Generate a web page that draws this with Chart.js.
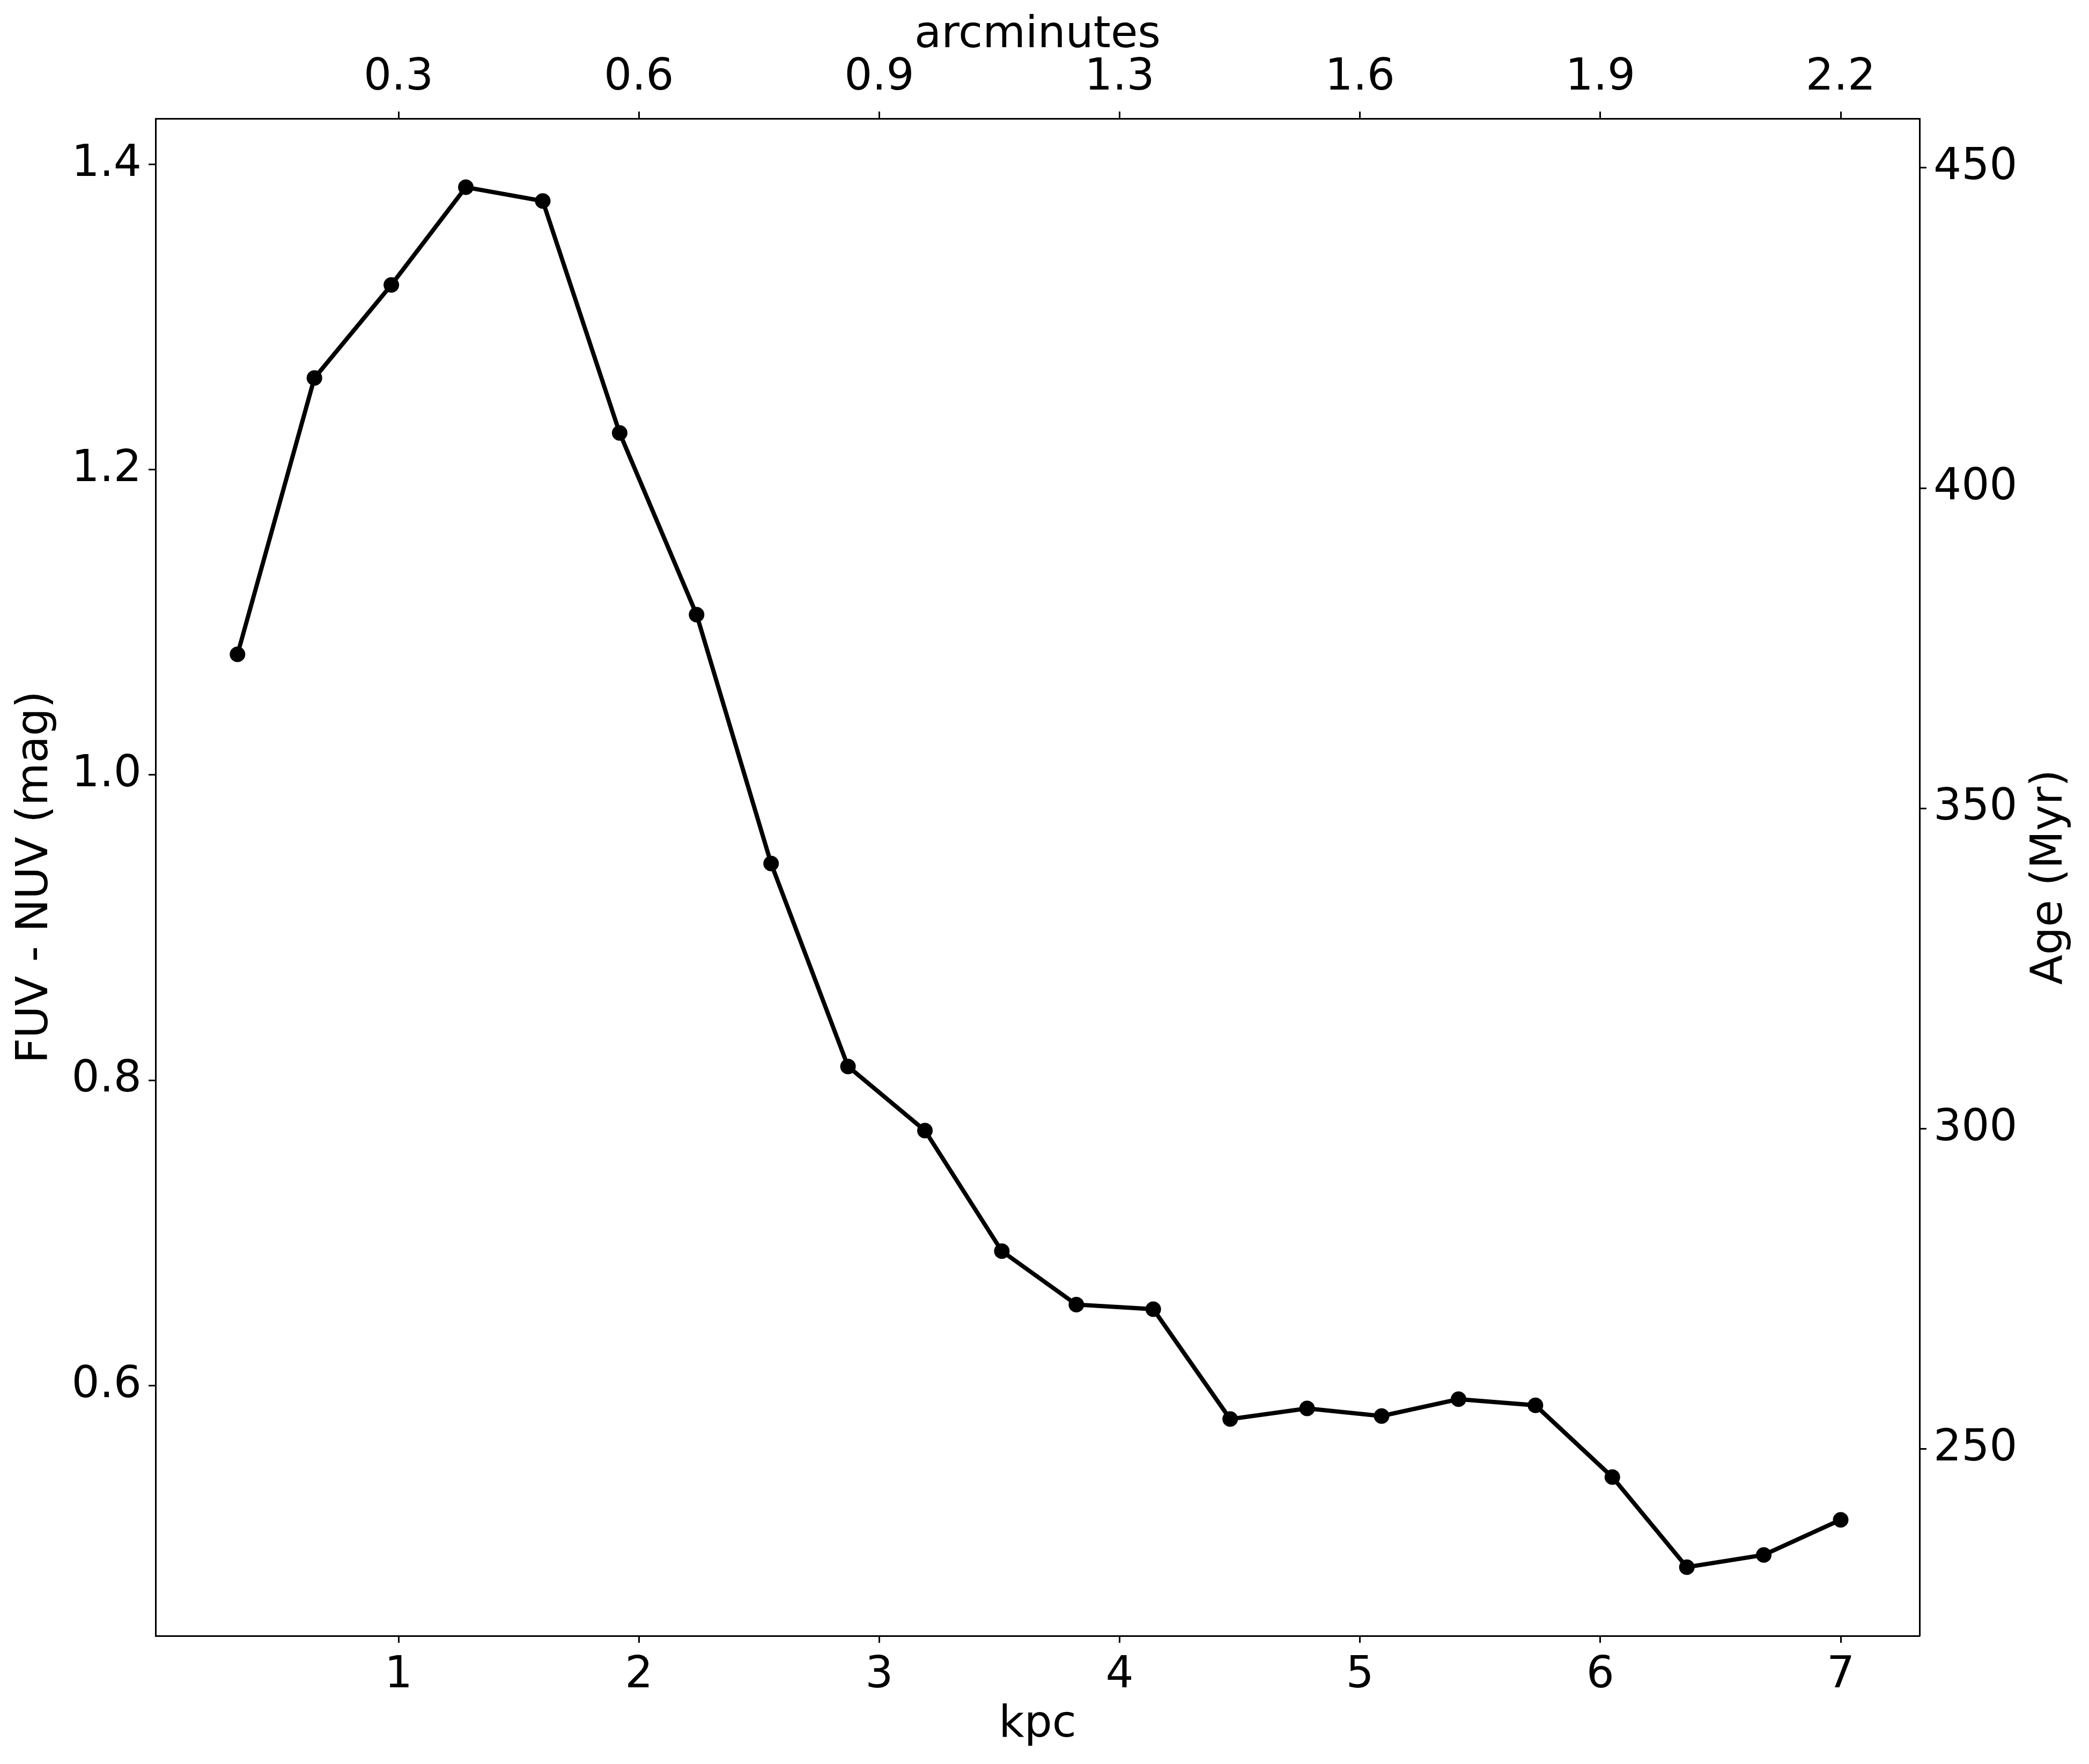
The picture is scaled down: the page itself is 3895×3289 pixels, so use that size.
<!DOCTYPE html>
<html>
<head>
<meta charset="utf-8">
<script src="https://cdn.jsdelivr.net/npm/chart.js@4.4.0/dist/chart.umd.min.js"></script>
<style>
    html, body { margin: 0; padding: 0; background: #fff; }
    #chart { display: block; }
</style>
</head>
<body>
<canvas id="chart" width="3895" height="3289"></canvas>
<script>
// ========================================
// DATA
// ========================================
const kpc = [0.33, 0.65, 0.97, 1.28, 1.60, 1.92, 2.24, 2.55, 2.87, 3.19, 3.51,
             3.82, 4.14, 4.46, 4.78, 5.09, 5.41, 5.73, 6.05, 6.36, 6.68, 7.00];
const fuvNuv = [1.079, 1.260, 1.321, 1.385, 1.376, 1.224, 1.105, 0.942, 0.809, 0.767, 0.688,
                0.653, 0.650, 0.578, 0.585, 0.580, 0.591, 0.587, 0.540, 0.481, 0.489, 0.512];

const kpcTicks = [1, 2, 3, 4, 5, 6, 7];
const arcminLabels = ['0.3', '0.6', '0.9', '1.3', '1.6', '1.9', '2.2'];
const colourTicks = [0.6, 0.8, 1.0, 1.2, 1.4];
const ageTicks = [250, 300, 350, 400, 450];

// axis limits (matplotlib auto margins)
const X_MIN = -0.011, X_MAX = 7.328;
const Y_MIN = 0.436, Y_MAX = 1.430;
const AGE_MIN = 220.8, AGE_MAX = 457.7;

// ========================================
// STYLE
// ========================================
const FONT = 'DejaVu Sans';
const TICK_SIZE = 82;
const LABEL_SIZE = 82;

function axisCommon(position, size) {
    return {
        position: position,
        grid: {
            drawOnChartArea: false,
            drawTicks: true,
            tickLength: 13,
            tickWidth: 3,
            tickColor: '#000'
        },
        border: { display: true, color: '#000', width: 3 },
        ticks: {
            color: '#000',
            padding: 13,
            maxRotation: 0,
            autoSkip: false,
            font: { family: FONT, size: TICK_SIZE }
        },
        afterFit: function(scale) {
            if (scale.isHorizontal()) scale.height = size;
            else scale.width = size;
        }
    };
}

const xBottom = axisCommon('bottom', 239);
xBottom.type = 'linear';
xBottom.min = X_MIN;
xBottom.max = X_MAX;
xBottom.afterBuildTicks = s => { s.ticks = kpcTicks.map(v => ({ value: v })); };
xBottom.ticks.callback = v => String(v);
xBottom.title = { display: true, text: 'kpc', color: '#000',
    font: { family: FONT, size: LABEL_SIZE }, padding: { top: 0, bottom: 23 } };

const xTop = axisCommon('top', 221);
xTop.type = 'linear';
xTop.min = X_MIN;
xTop.max = X_MAX;
xTop.afterBuildTicks = s => { s.ticks = kpcTicks.map(v => ({ value: v })); };
xTop.ticks.callback = (v, i) => arcminLabels[i];
xTop.title = { display: true, text: 'arcminutes', color: '#000',
    font: { family: FONT, size: LABEL_SIZE }, padding: { top: 18, bottom: 0 } };

const yLeft = axisCommon('left', 290);
yLeft.type = 'linear';
yLeft.min = Y_MIN;
yLeft.max = Y_MAX;
yLeft.afterBuildTicks = s => { s.ticks = colourTicks.map(v => ({ value: v })); };
yLeft.ticks.callback = v => v.toFixed(1);
yLeft.title = { display: true, text: 'FUV - NUV (mag)', color: '#000',
    font: { family: FONT, size: LABEL_SIZE }, padding: { top: 18, bottom: 0 } };

// right title is drawn by the plugin below (reads bottom-to-top like matplotlib)
const yRight = axisCommon('right', 316);
yRight.type = 'linear';
yRight.display = true;
yRight.min = AGE_MIN;
yRight.max = AGE_MAX;
yRight.afterBuildTicks = s => { s.ticks = ageTicks.map(v => ({ value: v })); };
yRight.ticks.callback = v => String(v);

const rightTitle = {
    id: 'rightTitle',
    afterDraw(chart) {
        const s = chart.scales.yRight;
        const ctx = chart.ctx;
        ctx.save();
        ctx.translate(s.right - 72, (s.top + s.bottom) / 2);
        ctx.rotate(-Math.PI / 2);
        ctx.font = LABEL_SIZE + 'px "' + FONT + '"';
        ctx.fillStyle = '#000';
        ctx.textAlign = 'center';
        ctx.textBaseline = 'middle';
        ctx.fillText('Age (Myr)', 0, 0);
        ctx.restore();
    }
};

// ========================================
// CHART
// ========================================
new Chart(document.getElementById('chart'), {
    type: 'line',
    data: {
        datasets: [{
            label: 'FUV - NUV',
            data: kpc.map((x, i) => ({ x: x, y: fuvNuv[i] })),
            xAxisID: 'x',
            yAxisID: 'y',
            borderColor: '#000',
            backgroundColor: '#000',
            borderWidth: 8,
            pointRadius: 14.5,
            pointBorderWidth: 0,
            pointBackgroundColor: '#000',
            fill: false,
            tension: 0
        }]
    },
    options: {
        responsive: false,
        devicePixelRatio: 1,
        animation: false,
        layout: { padding: 0 },
        plugins: {
            legend: { display: false },
            tooltip: { enabled: false }
        },
        scales: {
            x: xBottom,
            xTop: xTop,
            y: yLeft,
            yRight: yRight
        }
    },
    plugins: [rightTitle]
});
</script>
</body>
</html>
